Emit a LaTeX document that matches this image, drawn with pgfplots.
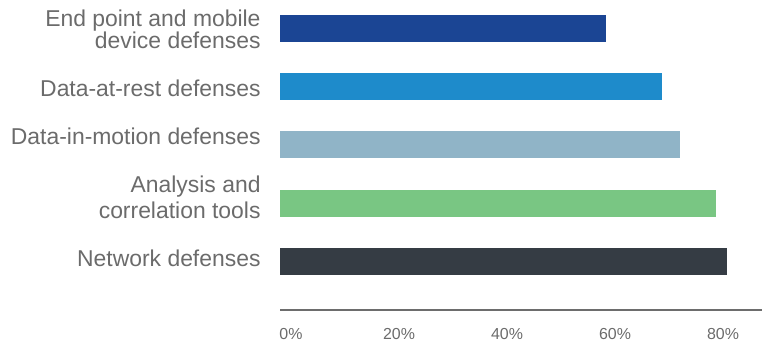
\documentclass[border=0pt]{standalone}
\usepackage{pgfplots}
\pgfplotsset{compat=1.18}
\usepackage{fontspec}
\setmainfont{Liberation Sans}
\definecolor{txt}{HTML}{6B6B6B}
\definecolor{axl}{HTML}{6D6D6D}
\definecolor{c1}{HTML}{1B4594}
\definecolor{c2}{HTML}{1E8BCB}
\definecolor{c3}{HTML}{90B4C7}
\definecolor{c4}{HTML}{79C683}
\definecolor{c5}{HTML}{353C44}
\newcommand{\two}[3]{\begin{tabular}[b]{@{}r@{}}#1\\[#3]#2\end{tabular}}
\begin{document}
\begin{tikzpicture}
\path[use as bounding box] (0,0) rectangle (762bp,341bp);
\begin{axis}[
  at={(280bp,31bp)}, anchor=south west,
  scale only axis, width=482bp, height=310bp,
  xbar, bar width=27bp, bar shift=0pt,
  xmin=0, xmax=89.26, ymin=-0.833, ymax=4.489,
  axis x line*=bottom, axis y line*=left,
  y axis line style={draw=none},
  x axis line style={axl, line width=2bp, -},
  xtick={0,20,40,60,80},
  xticklabels={0\%,20\%,40\%,60\%,80\%},
  xtick style={draw=none}, ytick style={draw=none},
  xticklabel style={anchor=base, inner sep=0pt, yshift=-29bp, xshift=11bp, font=\fontsize{16}{18}\selectfont, text=txt},
  ytick={0,1,2,3,4},
  yticklabels={\raisebox{-5.2bp}{Network defenses},
    \raisebox{-14.8bp}{\two{Analysis and}{correlation tools}{2.5bp}},
    \raisebox{0bp}{Data-in-motion defenses},
    \raisebox{-10.2bp}{Data-at-rest defenses},
    \raisebox{-20.3bp}{\two{End point and mobile}{device defenses}{-0.5bp}}},
  yticklabel style={anchor=base east, inner sep=0pt, xshift=-15bp,
    font=\fontsize{23}{22}\selectfont, text=txt},
  clip=false,
]
\addplot[draw=none, fill=c5] coordinates {(82.8,0)};
\addplot[draw=none, fill=c4] coordinates {(80.7,1)};
\addplot[draw=none, fill=c3] coordinates {(74.1,2)};
\addplot[draw=none, fill=c2] coordinates {(70.7,3)};
\addplot[draw=none, fill=c1] coordinates {(60.4,4)};
\end{axis}
\end{tikzpicture}
\end{document}
